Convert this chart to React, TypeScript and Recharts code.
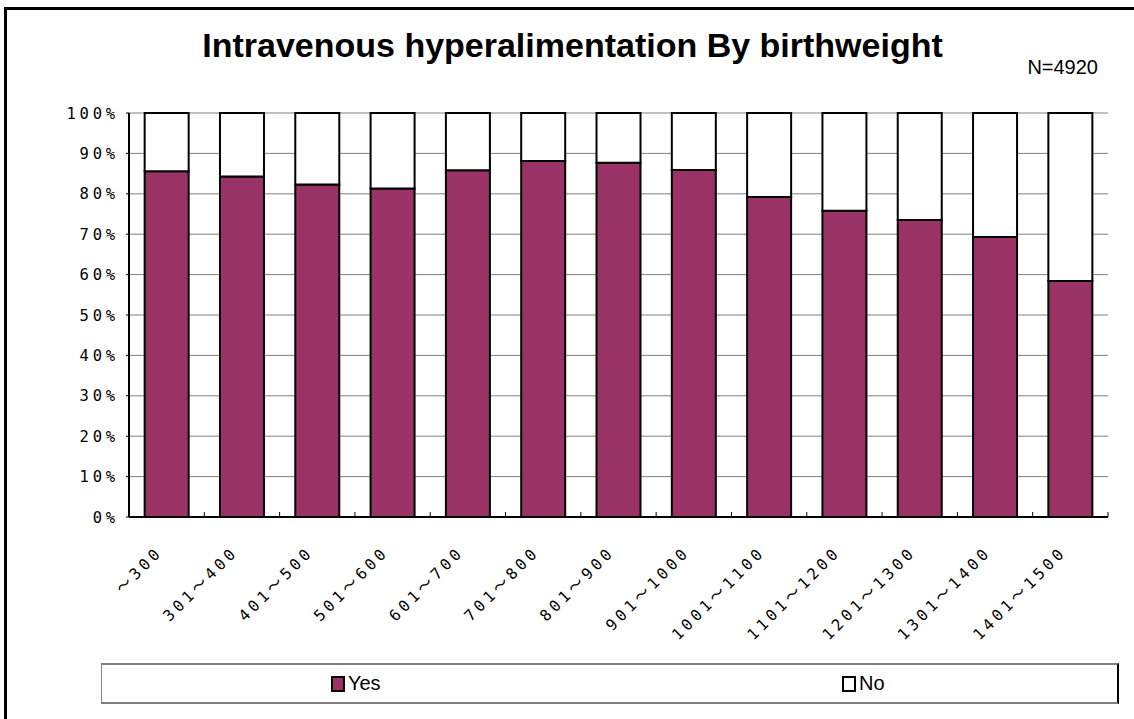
import React from "react";
import { Bar, BarChart, CartesianGrid, XAxis, YAxis } from "recharts";

const categories = [
  "～300",
  "301～400",
  "401～500",
  "501～600",
  "601～700",
  "701～800",
  "801～900",
  "901～1000",
  "1001～1100",
  "1101～1200",
  "1201～1300",
  "1301～1400",
  "1401～1500",
];
const yesValues = [85.6, 84.3, 82.3, 81.3, 85.8, 88.1, 87.7, 85.9, 79.2, 75.8, 73.5, 69.3, 58.4];
const noValues = [14.4, 15.7, 17.7, 18.7, 14.2, 11.9, 12.3, 14.1, 20.8, 24.2, 26.5, 30.7, 41.6];
const yTicks = [0, 10, 20, 30, 40, 50, 60, 70, 80, 90, 100];

const data = categories.map((name, i) => ({ name, yes: yesValues[i], no: noValues[i] }));

const MONO = "'DejaVu Sans Mono', 'Noto Sans CJK JP', monospace";
const SANS = "'Liberation Sans', Arial, sans-serif";

// category label, plus the small inside tick on the right edge of each category
function CategoryTick(props: any) {
  const { x = 0, y = 0, payload, width = 0, visibleTicksCount = 1 } = props;
  const half = width / visibleTicksCount / 2;
  const lx = x - 3;
  const ly = y + 36;
  return (
    <g>
      <line x1={x + half} x2={x + half} y1={y} y2={y - 5} stroke="#000" strokeWidth={1} />
      <text
        x={lx}
        y={ly}
        transform={`rotate(-45 ${lx} ${ly})`}
        textAnchor="end"
        fontFamily={MONO}
        fontSize={15.5}
        letterSpacing={3.8}
        fill="#000"
      >
        {payload?.value}
      </text>
    </g>
  );
}

function LegendItem({ label, color }: { label: string; color: string }) {
  return (
    <span style={{ display: "flex", alignItems: "center", gap: 3 }}>
      <span
        style={{ width: 10, height: 12, background: color, border: "2px solid #000", display: "inline-block" }}
      />
      <span>{label}</span>
    </span>
  );
}

export default function App() {
  return (
    <div
      style={{
        position: "fixed",
        left: 0,
        top: 0,
        width: 1134,
        height: 719,
        overflow: "hidden",
        background: "#fff",
      }}
    >
      <div
        style={{
          position: "absolute",
          left: 4,
          top: 7,
          width: 1200,
          height: 800,
          border: "3px solid #000",
        }}
      />
      <svg width={1134} height={100} style={{ position: "absolute", left: 0, top: 0 }}>
        <text x={572.5} y={57} textAnchor="middle" fontFamily={SANS} fontWeight="bold" fontSize={34} fill="#000">
          Intravenous hyperalimentation By birthweight
        </text>
        <text x={1098} y={74} textAnchor="end" fontFamily={SANS} fontSize={20} fill="#000">
          N=4920
        </text>
      </svg>
      <div style={{ position: "absolute", left: 0, top: 0 }}>
        <BarChart
          width={1134}
          height={719}
          data={data}
          margin={{ top: 113, right: 26, bottom: 102, left: 0 }}
          barCategoryGap="20.8%"
        >
          <CartesianGrid vertical={false} stroke="#808080" strokeWidth={1} />
          <XAxis
            dataKey="name"
            height={100}
            interval={0}
            tickLine={false}
            tickSize={0}
            tickMargin={0}
            axisLine={{ stroke: "#000", strokeWidth: 2 }}
            tick={<CategoryTick />}
          />
          <YAxis
            domain={[0, 100]}
            ticks={yTicks}
            interval={0}
            width={129}
            tickSize={3}
            tickMargin={7}
            tickFormatter={(v: number) => `${v}%`}
            axisLine={{ stroke: "#000", strokeWidth: 2 }}
            tickLine={{ stroke: "#000" }}
            tick={{ fontFamily: MONO, fontSize: 15.5, fill: "#000", letterSpacing: 3.8 }}
          />
          <YAxis
            yAxisId="r"
            orientation="right"
            domain={[0, 100]}
            width={0}
            tick={false}
            tickLine={false}
            axisLine={{ stroke: "#808080", strokeWidth: 2 }}
          />
          <Bar dataKey="yes" stackId="a" fill="#993366" stroke="#000" strokeWidth={2} isAnimationActive={false} />
          <Bar dataKey="no" stackId="a" fill="#ffffff" stroke="#000" strokeWidth={2} isAnimationActive={false} />
        </BarChart>
      </div>
      <div
        style={{
          position: "absolute",
          left: 101,
          top: 663,
          width: 1015,
          height: 37,
          borderTop: "2px solid #808080",
          borderBottom: "2px solid #808080",
          borderLeft: "1px solid #808080",
          borderRight: "2px solid #000",
          display: "flex",
          fontFamily: SANS,
          fontSize: 20,
          color: "#000",
        }}
      >
        <div style={{ flex: 1, display: "flex", justifyContent: "center", alignItems: "center" }}>
          <LegendItem label="Yes" color="#993366" />
        </div>
        <div style={{ flex: 1, display: "flex", justifyContent: "center", alignItems: "center" }}>
          <LegendItem label="No" color="#ffffff" />
        </div>
      </div>
    </div>
  );
}
